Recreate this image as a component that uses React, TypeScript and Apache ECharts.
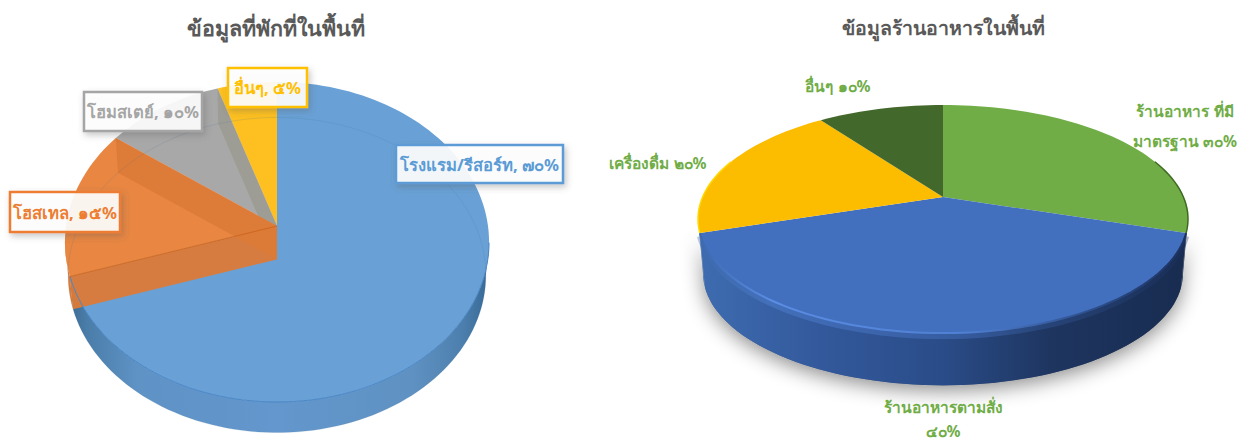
import React, { useEffect, useRef } from "react";
import * as echarts from "echarts";

const FONT = '"Noto Sans", "Open Sans", "DejaVu Sans", sans-serif';

const lodgingTitle = "ข้อมูลที่พักที่ในพื้นที่";
const lodgingLabels = ["โรงแรม/รีสอร์ท, ๗๐%", "โฮสเทล, ๑๕%", "โฮมสเตย์, ๑๐%", "อื่นๆ, ๕%"];
const lodgingValues = [70, 15, 10, 5];

const foodTitle = "ข้อมูลร้านอาหารในพื้นที่";
const foodLabels = ["ร้านอาหาร ที่มี\nมาตรฐาน ๓๐%", "ร้านอาหารตามสั่ง\n๔๐%", "เครื่องดื่ม ๒๐%", "อื่นๆ ๑๐%"];
const foodValues = [30, 40, 20, 10];

const lodgingGeom = { cx: 277, cy: 226, a: 158.4, b: 211, k: 0.1, drop: 33.5, floorR: 0.985 };
const foodGeom = { cx: 943, cy: 197, a: 109.8, b: 240.4, k: 0.193, drop: 55.7, floorR: 0.98 };

const lodgingTop = ["#669fd5", "#e8843e", "#a6a6a6", "#fdbf1c"];
const lodgingWall = ["#5f94c8", "#de7a30", "#9a9a92", "#e8ae1a"];
const lodgingBand = ["#5f94c8", "#dc7a38", "#9c9c94", "#f0b418"];
const lodgingDrawOrder = [0, 3, 2, 1];
const lodgingBoxes = [
  [396, 145, 167, 38],
  [10, 192, 110, 40],
  [84, 92, 118, 39],
  [228, 68, 79, 39],
];
const lodgingText = ["#5b9bd5", "#ed7d31", "#a5a5a5", "#ffc000"];

const foodTop = ["#70ad47", "#4270bf", "#fcbd00", "#43682b"];
const foodRim = ["#3f6a22", "#5a8ee6", "#ffd800", "#3a5a25"];
const foodLabelPos = [
  [[1185, 111], [1185, 141]],
  [[943, 407], [943, 431]],
  [[658, 163]],
  [[838, 86]],
];

type Geom = typeof lodgingGeom;

function project(g: Geom, deg: number, r = 1, drop = 0): number[] {
  const t = (deg * Math.PI) / 180;
  const u = r * Math.sin(t);
  const v = -r * Math.cos(t);
  const d = 1 - g.k * v;
  return [g.cx + (g.b * u) / d, g.cy + (g.a * v) / d + drop];
}

function arc(g: Geom, from: number, to: number, floor = false, extra = 0): number[][] {
  const pts: number[][] = [];
  const n = Math.max(2, Math.ceil(Math.abs(to - from) / 2));
  for (let i = 0; i <= n; i++) {
    const deg = from + ((to - from) * i) / n;
    pts.push(project(g, deg, floor ? g.floorR : 1, (floor ? g.drop : 0) + extra));
  }
  return pts;
}

function sliceRange(values: number[], i: number): number[] {
  const total = values.reduce((s, v) => s + v, 0);
  let c = 0;
  for (let j = 0; j < i; j++) c += values[j];
  return [(c / total) * 360, ((c + values[i]) / total) * 360];
}

function frontRange(g: Geom, s: number, e: number): number[] | null {
  const off = (Math.asin(g.k) * 180) / Math.PI;
  const a = Math.max(s, 90 + off);
  const b = Math.min(e, 270 - off);
  return b > a ? [a, b] : null;
}

function radialWall(g: Geom, deg: number): number[][] {
  return [[g.cx, g.cy], project(g, deg), project(g, deg, g.floorR, g.drop), [g.cx, g.cy + g.drop]];
}

function grad(x0: number, x1: number, stops: [number, string][]) {
  return new echarts.graphic.LinearGradient(
    x0, 0, x1, 0,
    stops.map(([offset, color]) => ({ offset, color })),
    true
  );
}

function renderLodging(params: any) {
  const i = params.dataIndex;
  const g = lodgingGeom;
  const [s, e] = sliceRange(lodgingValues, i);
  const base = lodgingDrawOrder[i] * 10;
  const children: any[] = [];
  const fr = frontRange(g, s, e);
  if (fr) {
    const wall = [...arc(g, fr[0], fr[1]), ...arc(g, fr[1], fr[0], true)];
    const fill =
      i === 0
        ? grad(g.cx - g.b, g.cx + g.b, [
            [0, "#38688f"],
            [0.05, "#4a7da9"],
            [0.17, "#5f93c6"],
            [0.5, "#6397cd"],
            [0.82, "#5f92c2"],
            [0.94, "#4d7fae"],
            [1, "#386a96"],
          ])
        : lodgingWall[i];
    children.push({ type: "polygon", z2: base + 1, shape: { points: wall }, style: { fill } });
  }
  children.push({
    type: "polygon",
    z2: base + 2,
    shape: { points: [[g.cx, g.cy], ...arc(g, s, e)] },
    style: { fill: lodgingTop[i], opacity: 0.98 },
  });
  const walls = i === 1 ? [s, e] : i === 2 ? [e] : [];
  walls.forEach((deg) => {
    children.push({
      type: "polygon",
      z2: base + 3,
      shape: { points: radialWall(g, deg) },
      style: { fill: lodgingBand[i], opacity: 0.95 },
    });
  });
  children.push({
    type: "polyline",
    z2: 50,
    shape: { points: arc(g, s, e, true) },
    style: { fill: "none", stroke: "rgba(70,110,150,0.16)", lineWidth: 1 },
  });
  if (i === 1) {
    children.push({
      type: "polyline",
      z2: 51,
      shape: { points: [project(g, s), [g.cx, g.cy]] },
      style: { fill: "none", stroke: "rgba(200,95,20,0.7)", lineWidth: 1 },
    });
  }
  if (i === 0) {
    children.push({
      type: "polyline",
      z2: 52,
      shape: { points: arc(g, 96, e) },
      style: { fill: "none", stroke: "#4a87c6", lineWidth: 1 },
    });
  }
  return { type: "group", children };
}

function renderFood(params: any) {
  const i = params.dataIndex;
  const g = foodGeom;
  const [s, e] = sliceRange(foodValues, i);
  const children: any[] = [];
  const fr = frontRange(g, s, e);
  if (fr) {
    const wall = [...arc(g, fr[0], fr[1]), ...arc(g, fr[1], fr[0], true)];
    if (i === 1) {
      children.push({
        type: "polygon",
        z2: 0,
        shape: { points: wall },
        style: {
          fill: "#8a8a8a",
          shadowBlur: 20,
          shadowColor: "rgba(0,0,0,0.45)",
          shadowOffsetY: 5,
        },
      });
    }
    children.push({
      type: "polygon",
      z2: 1,
      shape: { points: wall },
      style: {
        fill: grad(g.cx - 245, g.cx + 245, [
          [0, "#3e6cb0"],
          [0.25, "#33599c"],
          [0.5, "#2a4c88"],
          [0.72, "#1e3560"],
          [1, "#182c50"],
        ]),
      },
    });
  }
  children.push({
    type: "polygon",
    z2: 3,
    shape: { points: [[g.cx, g.cy], ...arc(g, s, e)] },
    style: { fill: foodTop[i] },
  });
  if (i === 1) {
    const stroke = grad(g.cx - 245, g.cx + 245, [
      [0, "#3c68ad"],
      [0.15, "#5a8de4"],
      [0.55, "#4f7fd2"],
      [0.8, "#2d4f8c"],
      [1, "#1c3160"],
    ]);
    children.push({
      type: "polyline",
      z2: 2,
      shape: { points: arc(g, s, e, false, 3) },
      style: { fill: "none", stroke, lineWidth: 6, opacity: 0.35 },
    });
    children.push({
      type: "polyline",
      z2: 4,
      shape: { points: arc(g, s, e) },
      style: { fill: "none", stroke, lineWidth: 2 },
    });
  } else if (i !== 3) {
    children.push({
      type: "polyline",
      z2: 4,
      shape: { points: i === 0 ? arc(g, 70, e) : arc(g, s, 290) },
      style: { fill: "none", stroke: foodRim[i], lineWidth: 1.5 },
    });
  }
  return { type: "group", children };
}

function renderLodgingLabel(params: any) {
  const i = params.dataIndex;
  const [x, y, w, h] = lodgingBoxes[i];
  return {
    type: "group",
    children: [
      {
        type: "rect",
        z2: 100,
        shape: { x, y, width: w, height: h },
        style: {
          fill: "rgba(255,255,255,0.9)",
          stroke: lodgingText[i],
          lineWidth: 2.5,
          shadowBlur: 6,
          shadowOffsetX: 2,
          shadowOffsetY: 3,
          shadowColor: "rgba(90,90,90,0.35)",
        },
      },
      {
        type: "text",
        z2: 101,
        style: {
          text: lodgingLabels[i],
          x: x + w / 2,
          y: y + h / 2,
          align: "center",
          verticalAlign: "middle",
          fill: lodgingText[i],
          font: `bold 16.6px ${FONT}`,
        },
      },
    ],
  };
}

function renderFoodLabel(params: any) {
  const i = params.dataIndex;
  const lines = foodLabels[i].split("\n");
  return {
    type: "group",
    children: lines.map((text, j) => ({
      type: "text",
      z2: 100,
      style: {
        text,
        x: foodLabelPos[i][j][0],
        y: foodLabelPos[i][j][1],
        align: "center",
        verticalAlign: "middle",
        fill: "#70ad47",
        font: `bold 15.5px ${FONT}`,
      },
    })),
  };
}

const customBase = { type: "custom", coordinateSystem: "none", silent: true, clip: false };

export default function App() {
  const ref = useRef<HTMLDivElement>(null);
  useEffect(() => {
    if (!ref.current) return;
    const chart = echarts.init(ref.current, undefined, { renderer: "svg" });
    chart.setOption({
      animation: false,
      backgroundColor: "#ffffff",
      title: [
        {
          text: lodgingTitle,
          left: 271,
          top: 11,
          textAlign: "center",
          textStyle: { color: "#595959", fontSize: 21.5, fontWeight: "bold", fontFamily: FONT },
        },
        {
          text: foodTitle,
          left: 938,
          top: 12,
          textAlign: "center",
          textStyle: { color: "#595959", fontSize: 19.5, fontWeight: "bold", fontFamily: FONT },
        },
      ],
      series: [
        { ...customBase, name: "lodging", data: lodgingValues.map((v) => [v]), renderItem: renderLodging },
        { ...customBase, name: "food", data: foodValues.map((v) => [v]), renderItem: renderFood },
        { ...customBase, name: "lodgingLabels", z: 5, data: lodgingValues.map((v) => [v]), renderItem: renderLodgingLabel },
        { ...customBase, name: "foodLabels", z: 5, data: foodValues.map((v) => [v]), renderItem: renderFoodLabel },
      ],
    });
    return () => chart.dispose();
  }, []);
  return <div ref={ref} style={{ position: "absolute", left: 0, top: 0, width: 1252, height: 443 }} />;
}
